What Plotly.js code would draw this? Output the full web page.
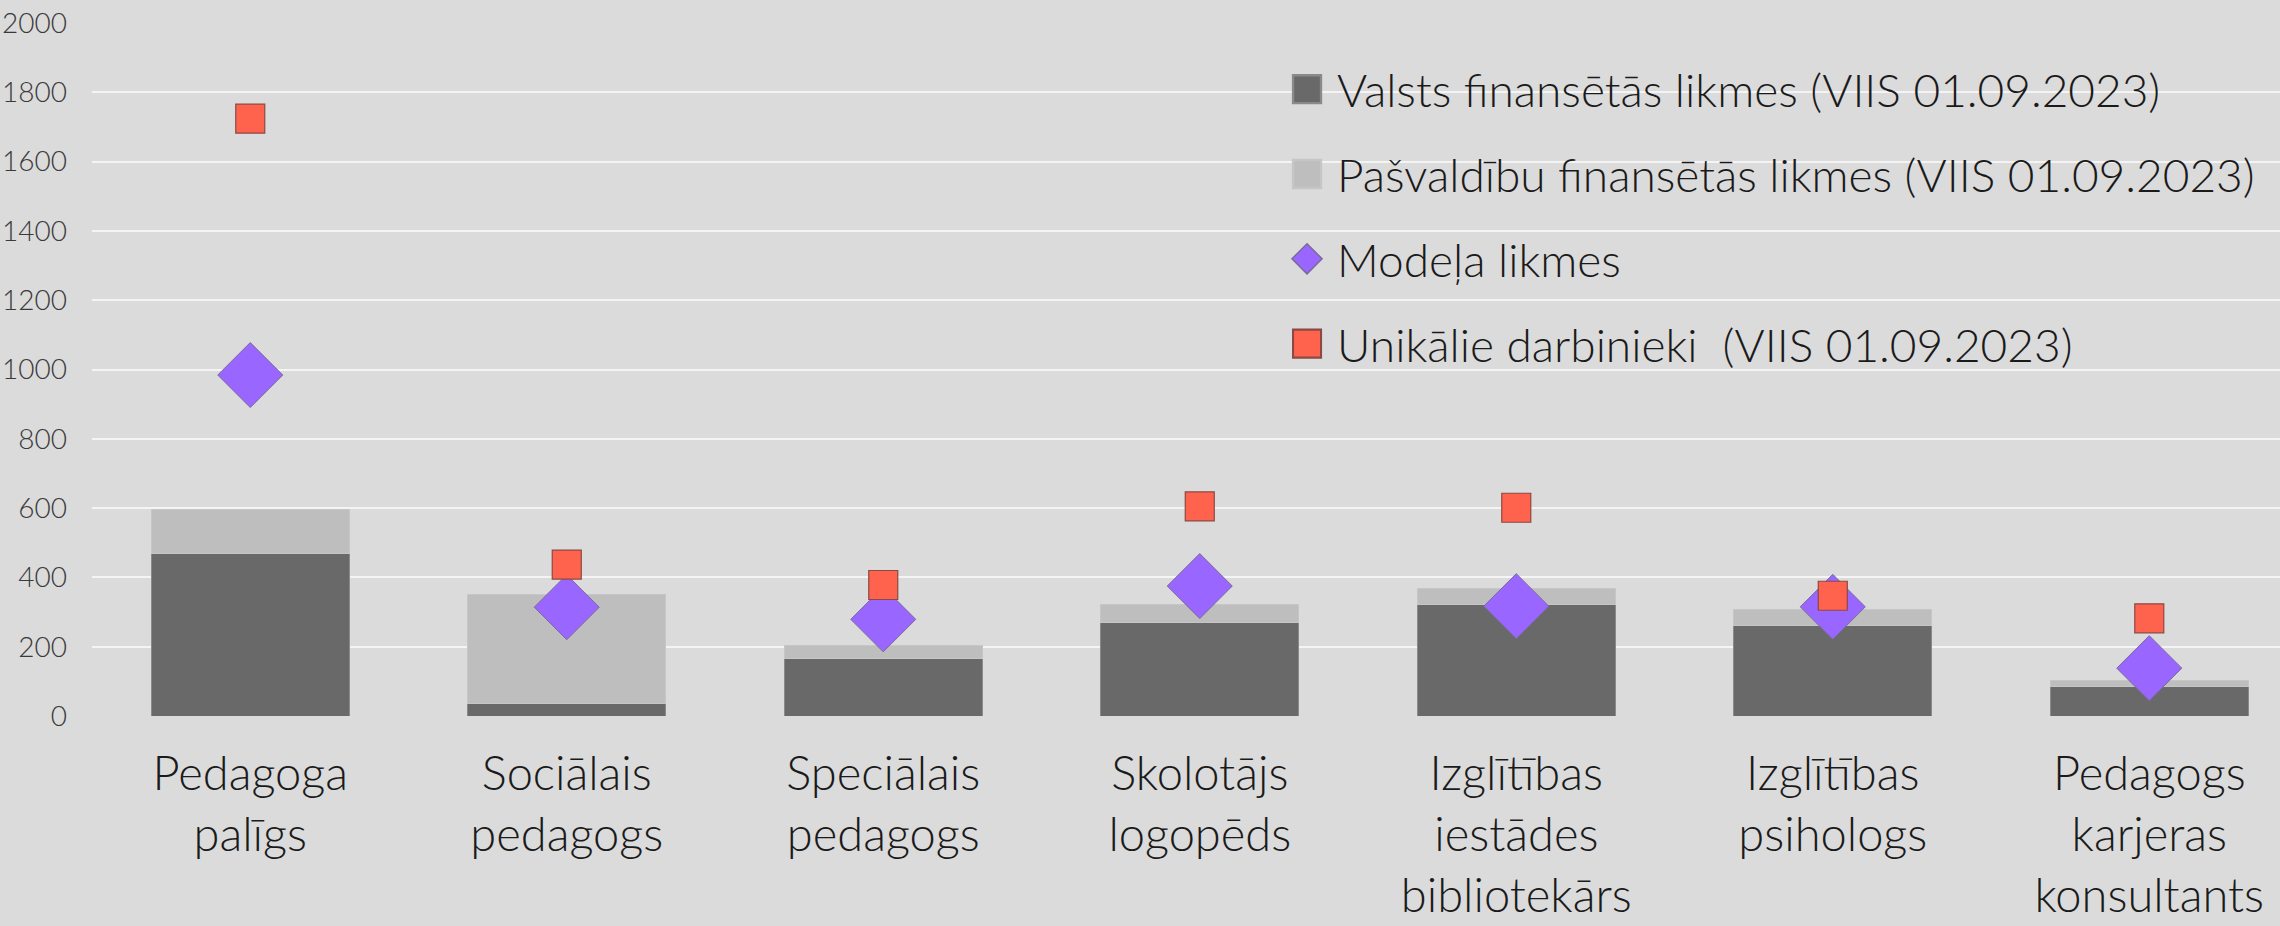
<!DOCTYPE html>
<html>
<head>
<meta charset="utf-8">
<script src="https://cdn.plot.ly/plotly-3.0.1.min.js"></script>
<style>
  html, body { margin: 0; padding: 0; background: #DBDBDB; }
  #chart { width: 2280px; height: 926px; }
</style>
</head>
<body>
<div id="chart"></div>
<script>
// ---- data ----
var categories = [
  "Pedagoga<br>palīgs",
  "Sociālais<br>pedagogs",
  "Speciālais<br>pedagogs",
  "Skolotājs<br>logopēds",
  "Izglītības<br>iestādes<br>bibliotekārs",
  "Izglītības<br>psihologs",
  "Pedagogs<br>karjeras<br>konsultants"
];
var seriesNames = [
  "Valsts finansētās likmes (VIIS 01.09.2023)",
  "Pašvaldību finansētās likmes (VIIS 01.09.2023)",
  "Modeļa likmes",
  "Unikālie darbinieki  (VIIS 01.09.2023)"
];
var valstsLikmes      = [468, 35, 167, 270, 321, 261, 84];
var pasvaldibuLikmes  = [129, 317, 36, 51, 46, 46, 18];
var modelaLikmes      = [984, 314, 279, 375, 317, 315, 138];
var unikalieDarbinieki = [1724, 437, 378, 605, 601, 347, 282];
var yTickVals = [0, 200, 400, 600, 800, 1000, 1200, 1400, 1600, 1800, 2000];

// ---- chart ----
var FONT = 'Lato, Roboto, sans-serif';

var traces = [
  {
    type: 'bar', name: seriesNames[0], x: categories, y: valstsLikmes,
    legendgroup: 'g1',
    marker: { color: '#696969', line: { color: '#8a8a8a', width: 1 } }
  },
  {
    type: 'bar', name: seriesNames[1], x: categories, y: pasvaldibuLikmes,
    legendgroup: 'g2',
    marker: { color: '#BEBEBE', line: { color: '#c6c6c6', width: 1 } }
  },
  {
    type: 'scatter', mode: 'markers', name: seriesNames[2], x: categories, y: modelaLikmes,
    legendgroup: 'g3',
    marker: { symbol: 'diamond', size: 50, color: '#9966FF', line: { color: '#7a6a9a', width: 1 } }
  },
  {
    type: 'scatter', mode: 'markers', name: seriesNames[3], x: categories, y: unikalieDarbinieki,
    legendgroup: 'g4',
    marker: { symbol: 'square', size: 29, color: '#FF634D', line: { color: '#8a4a44', width: 1.2 } }
  }
];

var layout = {
  width: 2280, height: 926,
  margin: { l: 92, r: 0, t: 23, b: 210, pad: 0 },
  paper_bgcolor: '#DBDBDB',
  plot_bgcolor: '#DBDBDB',
  barmode: 'stack',
  bargap: 0.374,
  showlegend: true,
  hovermode: false,
  font: { family: FONT, color: '#1a1a1a', weight: 300 },
  xaxis: {
    type: 'category',
    range: [-0.5, 6.413],
    showgrid: false, showline: false, zeroline: false,
    ticks: '',
    tickfont: { family: FONT, size: 47, color: '#1a1a1a', weight: 300 },
    ticklabelstandoff: 26
  },
  yaxis: {
    range: [0, 2000],
    tickmode: 'array', tickvals: yTickVals,
    showgrid: true, gridcolor: '#F4F4F4', gridwidth: 2,
    zeroline: false, showline: false, ticks: '',
    tickfont: { family: FONT, size: 28, color: '#3a3a3a', weight: 300 },
    ticklabelstandoff: 24
  },
  legend: {
    x: 0.5416, xanchor: 'left',
    y: 0.957, yanchor: 'top',
    bgcolor: 'rgba(0,0,0,0)',
    borderwidth: 0,
    font: { family: FONT, size: 46, color: '#1a1a1a', weight: 300 },
    itemwidth: 50,
    traceorder: 'grouped',
    tracegroupgap: 22
  }
};

Plotly.newPlot('chart', traces, layout, { staticPlot: true, displayModeBar: false }).then(function (gd) {
  // enlarge legend symbols to match reference
  var scales = [2.33, 2.33, 1.45, 1.75];
  var items = gd.querySelectorAll('.legend .traces');
  items.forEach(function (tr, i) {
    var s = scales[i] || 1;
    tr.querySelectorAll('.legendpoints path').forEach(function (p) {
      var t = p.getAttribute('transform') || '';
      p.setAttribute('transform', t + ' scale(' + s + ')');
    });
  });
});
</script>
</body>
</html>
